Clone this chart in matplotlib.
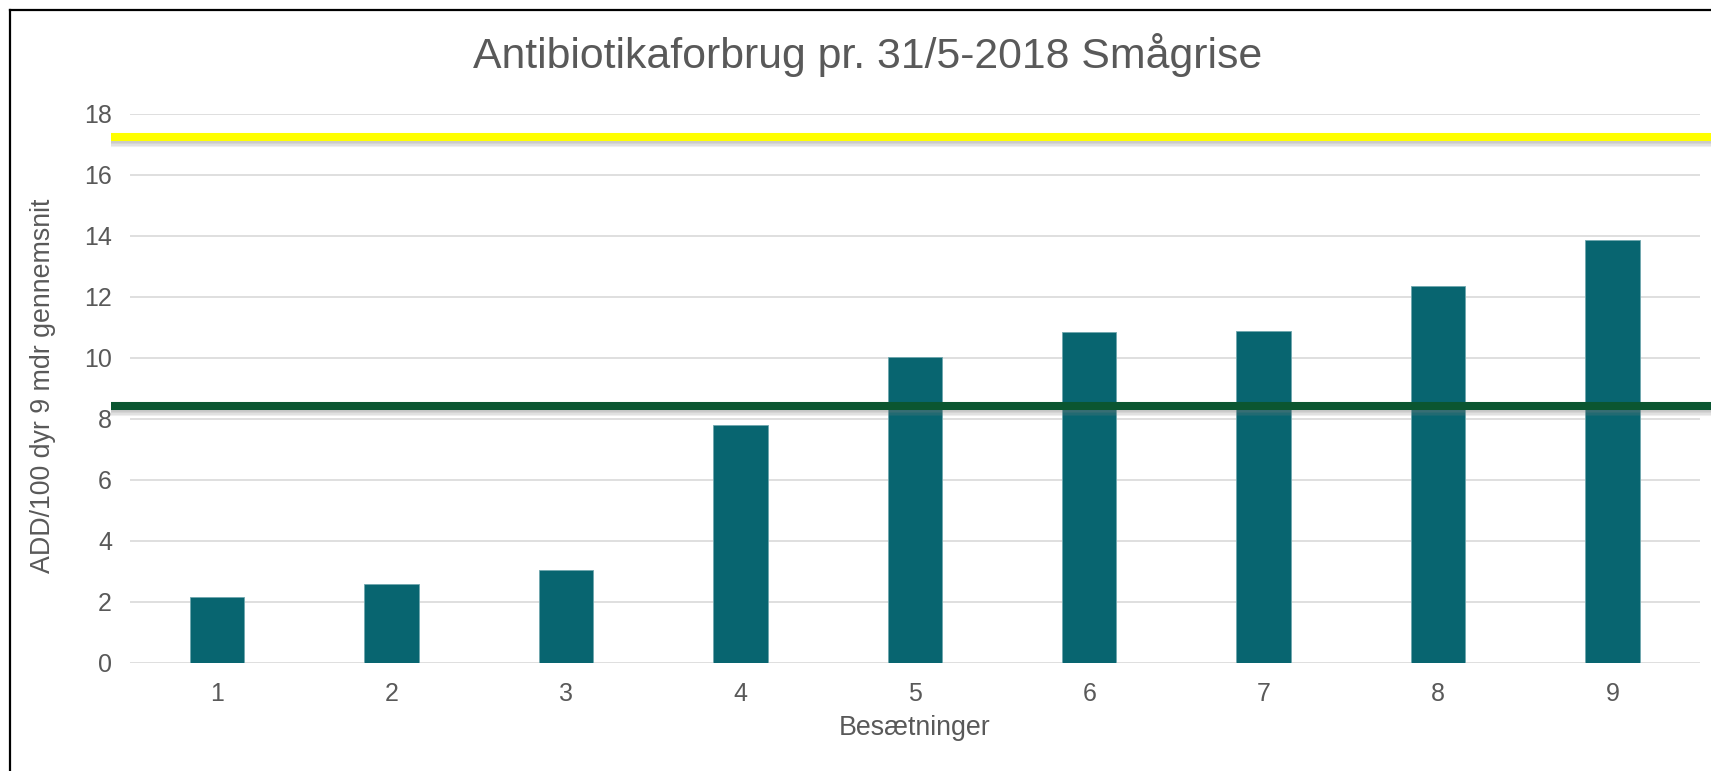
import matplotlib.pyplot as plt
import matplotlib.patheffects as pe
from matplotlib.lines import Line2D

plt.rcParams['font.family'] = ['Liberation Sans', 'DejaVu Sans']

# data
besaetninger = ['1', '2', '3', '4', '5', '6', '7', '8', '9']
add_values = [2.14, 2.58, 3.05, 7.79, 10.03, 10.83, 10.87, 12.35, 13.86]
yellow_level = 17.24
green_level = 8.42
yticks = [0, 2, 4, 6, 8, 10, 12, 14, 16, 18]

W, H = 1711, 771
fig = plt.figure(figsize=(W / 100, H / 100), dpi=100)
fig.patch.set_facecolor('white')

# plot area in pixels
left, right, bottom, top = 130, 1699.6, 662.7, 113.5
ax = fig.add_axes([left / W, 1 - bottom / H, (right - left) / W, (bottom - top) / H])

text_col = '#595959'
x = list(range(len(besaetninger)))
ax.bar(x, add_values, width=0.3125, color='#086570', edgecolor='#6FA7AE',
       linewidth=0.6, zorder=2)

ax.set_xlim(-0.5, len(besaetninger) - 0.5)
ax.set_ylim(0, 18)
ax.set_yticks(yticks)
ax.set_xticks(x)
ax.set_xticklabels(besaetninger)
ax.grid(axis='y', color='#D9D9D9', linewidth=1.2, zorder=0)
ax.set_axisbelow(True)
for s in ax.spines.values():
    s.set_visible(False)
ax.tick_params(axis='both', length=0, labelsize=18, colors=text_col)
ax.tick_params(axis='y', pad=13)
ax.tick_params(axis='x', pad=14)

# reference lines, start a bit left of the plot area, run off the right edge
x0 = -0.5 - 19 / 174.4
x1 = len(besaetninger) + 1
# soft drop shadow built from a few faint offset copies
shadow = [pe.SimpleLineShadow(offset=(0, -o), shadow_color='#808080', alpha=0.12)
          for o in (1.5, 2.5, 3.5, 4.5)] + [pe.Normal()]
ax.plot([x0, x1], [yellow_level] * 2, color='#FFFF00', lw=5.8,
        solid_capstyle='butt', clip_on=False, zorder=4, path_effects=shadow)
ax.plot([x0, x1], [green_level] * 2, color='#0B5631', lw=5.8,
        solid_capstyle='butt', clip_on=False, zorder=4, path_effects=shadow)

fig.text(868 / W, 1 - 55 / H, 'Antibiotikaforbrug pr. 31/5-2018 Smågrise',
         ha='center', va='center', fontsize=30.8, color=text_col)
fig.text(43 / W, 1 - 386 / H, 'ADD/100 dyr 9 mdr gennemsnit', rotation=90,
         ha='center', va='center', fontsize=19.3, color=text_col)
fig.text((left + right) / 2 / W, 1 - 728 / H, 'Besætninger',
         ha='center', va='center', fontsize=19.3, color=text_col)

# chart-area border (only top and left edges fall inside the image)
fig.add_artist(Line2D([10 / W, 10 / W], [0, 1 - 10 / H], color='black', lw=1.6,
                      transform=fig.transFigure))
fig.add_artist(Line2D([10 / W, 1], [1 - 10 / H, 1 - 10 / H], color='black', lw=1.6,
                      transform=fig.transFigure))

fig.savefig('out.png', dpi=100)
